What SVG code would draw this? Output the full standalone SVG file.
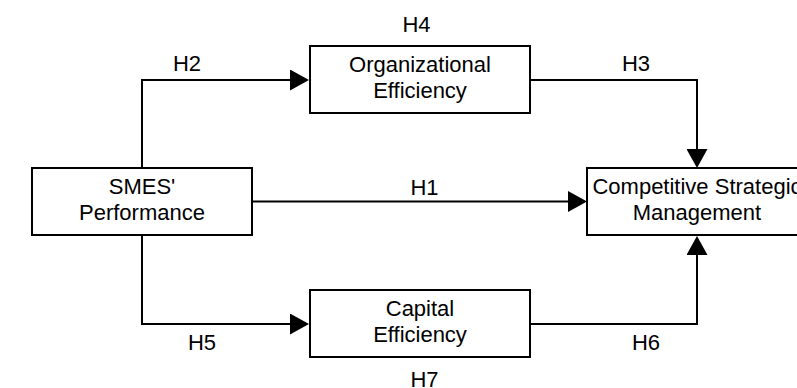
<svg xmlns="http://www.w3.org/2000/svg" width="797" height="388" viewBox="0 0 797 388">
<style>
.box{fill:#fff;stroke:#000;stroke-width:2}
.t{font-family:"Liberation Sans",Arial,sans-serif;font-size:22px;fill:#000;text-anchor:middle}
.c{fill:none;stroke:#000;stroke-width:2;marker-end:url(#ah)}
</style>
<defs>
<marker id="ah" viewBox="0 0 19 21" refX="0" refY="10.5" markerWidth="19" markerHeight="21" markerUnits="userSpaceOnUse" orient="auto">
<path d="M0,0 L19,10.5 L0,21 Z" fill="#000"/>
</marker>
</defs>
<rect width="797" height="388" fill="#fff"/>
<g id="connectors">
<path class="c" d="M142,168 V80 H290"/>
<path class="c" d="M530,80 H697 V149"/>
<path class="c" d="M252,201.5 H568"/>
<path class="c" d="M142,235 V324 H290"/>
<path class="c" d="M530,324 H697 V255"/>
</g>
<g id="labels">
<text class="t" x="416.5" y="32">H4</text>
<text class="t" x="187" y="71">H2</text>
<text class="t" x="636" y="71">H3</text>
<text class="t" x="424.5" y="195">H1</text>
<text class="t" x="202" y="349.5">H5</text>
<text class="t" x="646" y="350">H6</text>
<text class="t" x="424.5" y="387">H7</text>
</g>
<g id="smes">
<rect class="box" x="32" y="168" width="220" height="67"/>
<text class="t" x="142" y="194">SMES'</text>
<text class="t" x="142" y="219.5">Performance</text>
</g>
<g id="org">
<rect class="box" x="310" y="46" width="220" height="67"/>
<text class="t" x="420" y="72">Organizational</text>
<text class="t" x="420" y="97.5">Efficiency</text>
</g>
<g id="capital">
<rect class="box" x="310" y="290" width="220" height="67"/>
<text class="t" x="420" y="316">Capital</text>
<text class="t" x="420" y="341.5">Efficiency</text>
</g>
<g id="csm">
<rect class="box" x="587" y="168" width="220" height="67"/>
<text class="t" x="697" y="193.5">Competitive Strategic</text>
<text class="t" x="697" y="219.5">Management</text>
</g>
</svg>
